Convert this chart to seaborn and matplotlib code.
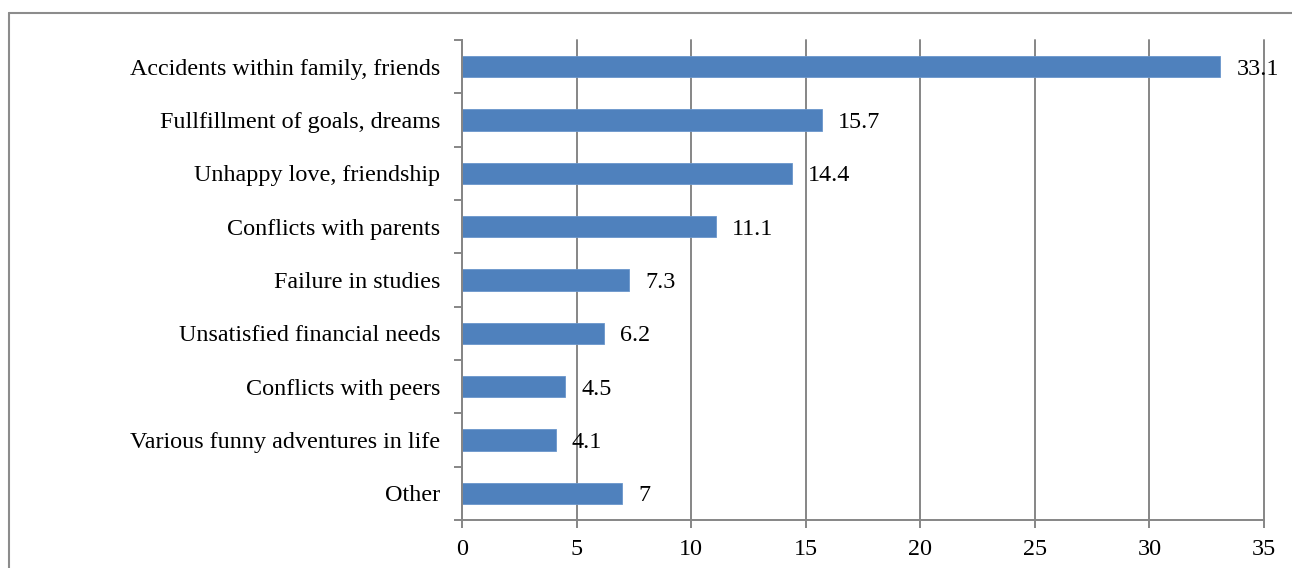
import matplotlib
matplotlib.use("Agg")
import matplotlib.pyplot as plt
from matplotlib.lines import Line2D
import seaborn as sns
import pandas as pd
import numpy as np

categories = [
    "Accidents within family, friends",
    "Fullfillment of goals, dreams",
    "Unhappy love, friendship",
    "Conflicts with parents",
    "Failure in studies",
    "Unsatisfied financial needs",
    "Conflicts with peers",
    "Various funny adventures in life",
    "Other",
]
values = [33.1, 15.7, 14.4, 11.1, 7.3, 6.2, 4.5, 4.1, 7]
value_labels = ["33.1", "15.7", "14.4", "11.1", "7.3", "6.2", "4.5", "4.1", "7"]
x_ticks = [0, 5, 10, 15, 20, 25, 30, 35]

sns.set_style("white")
plt.rcParams["font.family"] = ["Liberation Serif", "DejaVu Serif"]
FS = 17.4
GRID = "#868686"

df = pd.DataFrame({"category": categories, "value": values})

fig = plt.figure(figsize=(12.92, 5.68), dpi=100)
ax = fig.add_axes([462 / 1292, 1 - 520 / 568, (1264 - 462) / 1292, (520 - 40) / 568])

sns.barplot(data=df, x="value", y="category", orient="h", color="#4F81BD",
            width=0.4, saturation=1, edgecolor="#6A96CC", linewidth=0.6, ax=ax)

ax.set_xlim(0, 35)
ax.set_ylim(len(categories) - 0.5, -0.5)
ax.set_xticks(x_ticks)
ax.set_xticklabels([str(t) for t in x_ticks], fontsize=FS, color="black")
ax.set_xlabel("")
ax.set_ylabel("")

# category labels without ticks; tick marks on the boundaries between categories
ax.set_yticks(range(len(categories)))
ax.set_yticklabels(categories, fontsize=FS, color="black")
ax.tick_params(axis="y", which="major", length=0, pad=15.5)
ax.set_yticks(np.arange(-0.5, len(categories), 1.0), minor=True)
ax.tick_params(axis="y", which="minor", length=5.5, width=1.4, color=GRID, direction="out", left=True)
ax.tick_params(axis="x", which="major", length=5.5, width=1.4, color=GRID, direction="out", bottom=True, pad=8)

ax.grid(axis="x", color=GRID, linewidth=1.4)
ax.grid(axis="y", visible=False)
ax.set_axisbelow(True)
for gl in ax.get_xgridlines():
    gl.set_clip_on(False)

for side in ["top", "right"]:
    ax.spines[side].set_visible(False)
for side in ["left", "bottom"]:
    ax.spines[side].set_visible(True)
    ax.spines[side].set_color(GRID)
    ax.spines[side].set_linewidth(1.4)

for i, (v, lab) in enumerate(zip(values, value_labels)):
    ax.annotate(lab, xy=(v, i), xytext=(11.5, 0), textcoords="offset points",
                ha="left", va="center_baseline", fontsize=FS, color="black", clip_on=False)

# outer frame of the chart area
fig.add_artist(Line2D([8.5 / 1292, 1.01], [1 - 12.5 / 568, 1 - 12.5 / 568],
                      transform=fig.transFigure, color="#8c8c8c", linewidth=1.5))
fig.add_artist(Line2D([8.5 / 1292, 8.5 / 1292], [-0.01, 1 - 12.5 / 568],
                      transform=fig.transFigure, color="#8c8c8c", linewidth=1.5))

fig.savefig("out.png", dpi=100, facecolor="white")
